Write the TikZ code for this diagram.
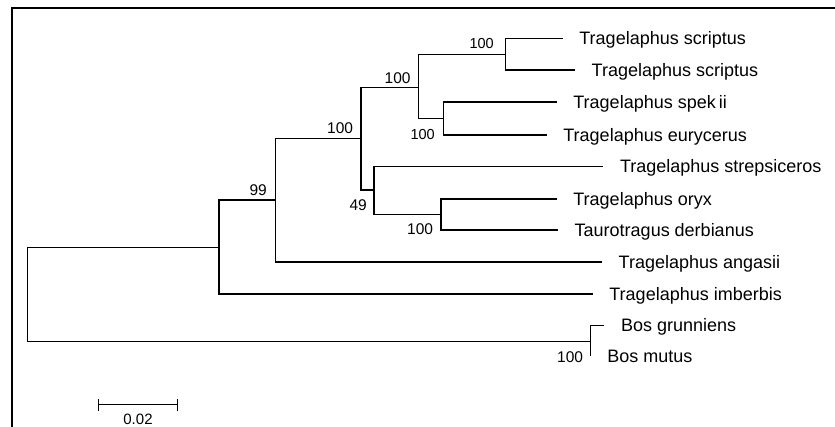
\documentclass[tikz,border=0pt]{standalone}
\usepackage{fontspec}
\setmainfont{Liberation Sans}
\begin{document}
\begin{tikzpicture}[x=1pt,y=-1pt,
  branch/.style={line width=1.2pt,black},
  frameline/.style={line width=2.3pt,black},
  leaf/.style={anchor=base west,inner sep=0pt,font=\fontsize{18}{20}\selectfont},
  boot/.style={anchor=base east,inner sep=0pt,font=\fontsize{15.5}{17}\selectfont},
  bootsmall/.style={anchor=base east,inner sep=0pt,font=\fontsize{14.5}{16}\selectfont},
  scalelab/.style={anchor=base,inner sep=0pt,font=\fontsize{15}{17}\selectfont}]
\useasboundingbox (0,0) rectangle (835,427);
% frame
\draw[frameline] (11.7,430) -- (11.7,8.3) -- (840,8.3);
% internal nodes
\coordinate (A) at (27.3,294.5);
\coordinate (B) at (219,247.3);
\coordinate (C) at (275.3,200);
\coordinate (D) at (361,138.3);
\coordinate (E) at (418.5,87.7);
\coordinate (F) at (505.5,54.3);
\coordinate (G) at (443.5,118.5);
\coordinate (H) at (374,190);
\coordinate (I) at (441,214.5);
\coordinate (J) at (590.7,341.7);
% tips
\coordinate (e1) at (562.7,38.5);
\coordinate (e2) at (575,70);
\coordinate (e3) at (556.7,102);
\coordinate (e4) at (546.7,135);
\coordinate (e5) at (603.3,166.5);
\coordinate (e6) at (556.7,199);
\coordinate (e7) at (558,230);
\coordinate (e8) at (602,262);
\coordinate (e9) at (592.7,294);
\coordinate (e10) at (604.3,325.5);
\coordinate (e11) at (590.7,356.5);
% branches
\draw[branch] (A) |- (B);
\draw[branch] (A) |- (J);
\draw[branch] (B) |- (C);
\draw[branch] (B) |- (e9);
\draw[branch] (C) |- (D);
\draw[branch] (C) |- (e8);
\draw[branch] (D) |- (E);
\draw[branch] (D) |- (H);
\draw[branch] (E) |- (F);
\draw[branch] (E) |- (G);
\draw[branch] (F) |- (e1);
\draw[branch] (F) |- (e2);
\draw[branch] (G) |- (e3);
\draw[branch] (G) |- (e4);
\draw[branch] (H) |- (e5);
\draw[branch] (H) |- (I);
\draw[branch] (I) |- (e6);
\draw[branch] (I) |- (e7);
\draw[branch] (J) |- (e10);
\draw[branch] (J) |- (e11);
% leaf labels
\node[leaf] (t1) at ([xshift=16.5pt,yshift=-6.3pt]e1) {Tragelaphus scriptus};
\node[leaf] (t2) at ([xshift=16.5pt,yshift=-6.3pt]e2) {Tragelaphus scriptus};
\node[leaf] (t3) at ([xshift=16.5pt,yshift=-6.3pt]e3) {Tragelaphus spek\,ii};
\node[leaf] (t4) at ([xshift=16.5pt,yshift=-6.3pt]e4) {Tragelaphus eurycerus};
\node[leaf] (t5) at ([xshift=16.5pt,yshift=-6.3pt]e5) {Tragelaphus strepsiceros};
\node[leaf] (t6) at ([xshift=16.5pt,yshift=-6.3pt]e6) {Tragelaphus oryx};
\node[leaf] (t7) at ([xshift=16.5pt,yshift=-6.3pt]e7) {Taurotragus derbianus};
\node[leaf] (t8) at ([xshift=16.5pt,yshift=-6.3pt]e8) {Tragelaphus angasii};
\node[leaf] (t9) at ([xshift=16.5pt,yshift=-6.3pt]e9) {Tragelaphus imberbis};
\node[leaf] (t10) at ([xshift=16.5pt,yshift=-6.3pt]e10) {Bos grunniens};
\node[leaf] (t11) at ([xshift=16.5pt,yshift=-6.3pt]e11) {Bos mutus};
% bootstrap values
\node[bootsmall] (bF) at (494,49) {100};
\node[boot] (bE) at (410.7,83.3) {100};
\node[boot] (bD) at (353.3,134) {100};
\node[boot] (bC) at (267,195.3) {99};
\node[boot] (bH) at (367,210.7) {49};
\node[bootsmall] (bG) at (435,139.5) {100};
\node[boot] (bI) at (433.3,235) {100};
\node[boot] (bJ) at (583.3,362.3) {100};
% scale bar
\coordinate (s1) at (98.7,404.7);
\coordinate (s2) at (177.3,404.7);
\draw[branch] (s1) -- (s2);
\draw[branch] ([yshift=5.7pt]s1) -- ([yshift=-6.3pt]s1);
\draw[branch] ([yshift=5.7pt]s2) -- ([yshift=-6.3pt]s2);
\node[scalelab] (sl) at (138,424) {0.02};
\end{tikzpicture}
\end{document}
